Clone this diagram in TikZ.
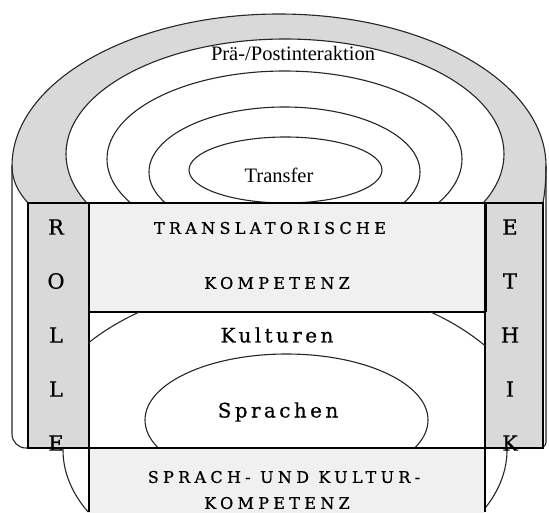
\documentclass[tikz,border=0pt]{standalone}
\usepackage{fontspec}
\setmainfont{Liberation Serif}
\newfontfamily\spacedcaps[LetterSpace=27,FakeBold=0.8]{DejaVu Serif}
\newfontfamily\spacedlabel[LetterSpace=17,FakeBold=0.5]{DejaVu Serif}
\newfontfamily\sideletter[FakeBold=0.6]{DejaVu Serif}
\definecolor{ringgray}{RGB}{217,217,217}
\definecolor{boxgray}{RGB}{240,240,240}
\tikzset{
  ringline/.style={draw=black!85, line width=1.1pt},
  frameline/.style={draw=black, line width=1.5pt},
  thickside/.style={draw=black, line width=3pt},
  plainlabel/.style={inner sep=0pt, font=\fontsize{20.5}{24}\selectfont},
  capslabel/.style={inner sep=0pt, font=\spacedcaps\fontsize{16}{19}\selectfont},
  wordlabel/.style={inner sep=0pt, font=\spacedlabel\fontsize{20}{24}\selectfont},
  columnletter/.style={inner sep=0pt, font=\sideletter\fontsize{21}{24}\selectfont},
}
\begin{document}
\begin{tikzpicture}[x=1pt,y=-1pt]
\useasboundingbox (0,0) rectangle (549,512);

% grey outer ring of the dome
\path[fill=ringgray, ringline] (28,203) .. controls (18,192) and (12,180) .. (12,166)
  arc (180:360:267 and 152) .. controls (546,180) and (545,192) .. (543,203);

% inner rings above the frame
\begin{scope}
  \clip (0,0) rectangle (549,203);
  \path[fill=white, ringline] (285,154) ellipse [x radius=219, y radius=115];
  \path[ringline] (284.5,159) ellipse [x radius=177.5, y radius=88];
  \path[ringline] (284.5,172) ellipse [x radius=135.5, y radius=65];
  \path[ringline] (285.5,170) ellipse [x radius=96.5, y radius=33];
\end{scope}

% sides of the cylinder
\path[ringline, rounded corners=14pt] (12,166) -- (12,448) -- (32,448);
\path[ringline, rounded corners=6pt] (546,166) -- (546,448) -- (538,448);

% lower box and the ring around it
\fill[boxgray] (89,448) rectangle (485,515);
\begin{scope}
  \clip (0,448) rectangle (89,512) (485,448) rectangle (549,512);
  \path[ringline] (285,450) ellipse [x radius=222, y radius=134];
\end{scope}
\path[frameline] (89,448) -- (89,512);
\path[frameline] (485,448) -- (485,512);

% columns and upper box
\path[frameline, fill=ringgray] (28,203) rectangle (89,448);
\path[frameline, fill=ringgray] (485,203) rectangle (543,448);
\path[frameline, fill=boxgray] (89,203) rectangle (485,312);
\path[thickside] (485,203) -- (485,312);

% middle field: cultures and languages
\begin{scope}
  \clip (89,312) rectangle (485,448);
  \path[ringline] (285,448) ellipse [x radius=254, y radius=166];
  \path[ringline] (286.5,420) ellipse [x radius=141.5, y radius=66];
\end{scope}
\path[frameline] (28,448) -- (543,448);

% labels
\node[plainlabel] (prae) at (293,53) {Prä-/Postinteraktion};
\node[plainlabel] (transfer) at (279,175) {Transfer};
\node[capslabel] (tk1) at (270,228) {TRANSLATORISCHE};
\node[capslabel] (tk2) at (277,283) {KOMPETENZ};
\node[wordlabel] (kult) at (277,335) {Kulturen};
\node[wordlabel] (spr) at (278,412) {Sprachen};
\node[capslabel] (sk1) at (284,477) {SPRACH- UND KULTUR-};
\node[capslabel] (sk2) at (277,503) {KOMPETENZ};

\foreach \ch [count=\i] in {R,O,L,L,E}
  \node[columnletter] (rolle\i) at (56,{173+\i*54}) {\ch};
\foreach \ch [count=\i] in {E,T,H,I,K}
  \node[columnletter] (ethik\i) at (510,{173+\i*54}) {\ch};
\end{tikzpicture}
\end{document}
